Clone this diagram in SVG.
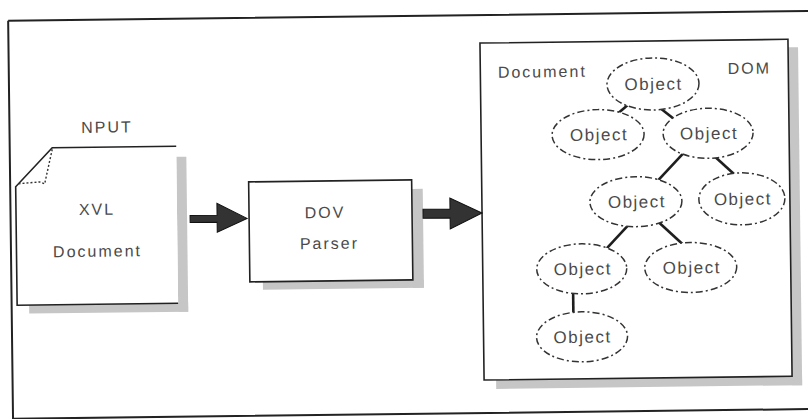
<svg xmlns="http://www.w3.org/2000/svg" width="808" height="419" viewBox="0 0 808 419">
<style>
.t{font-family:"Liberation Sans",Arial,sans-serif;font-size:16px;fill:#4a4a4a;letter-spacing:2px;text-anchor:middle}
.o{font-family:"Liberation Sans",Arial,sans-serif;font-size:17px;fill:#4a4a4a;letter-spacing:1.5px;text-anchor:middle}
.box{fill:#fff;stroke:#222;stroke-width:1.6}
.sh{fill:#c6c6c6}
.el{fill:#fff;stroke:#333;stroke-width:1.5;stroke-dasharray:7 3 2 3}
.cn{stroke:#1e1e1e;stroke-width:2.6;fill:none}
.ar{fill:#333;stroke:#111;stroke-width:1}
</style>
<rect width="808" height="419" fill="#fff"/>
<g transform="rotate(-0.7 404 210)">
<g id="frame"><path d="M10.5,16 L820,16 M10.5,16 L10.5,430 M10.5,414 L820,414" fill="none" stroke="#222" stroke-width="2"/></g>

<g id="input-doc">
<rect class="sh" x="177" y="154" width="10" height="155"/>
<rect class="sh" x="28" y="300.5" width="159" height="8.5"/>
<path d="M53,143.5 L177,143.5 L177,300.5 L16,300.5 L16,182 Z" fill="#fff"/>
<path d="M177,143.5 L53,143.5 L16,182 L16,300.5 L177,300.5" fill="none" stroke="#222" stroke-width="1.6"/>
<polyline points="53,145 45,179.5 40,177.5 19,179" fill="none" stroke="#333" stroke-width="1.4" stroke-dasharray="2 2"/>
<text class="t" x="108" y="129">NPUT</text>
<text class="t" x="97" y="211">XVL</text>
<text class="t" x="97" y="253">Document</text>
</g>

<g id="parser">
<rect class="sh" x="412" y="189" width="11" height="99"/>
<rect class="sh" x="262" y="280" width="161" height="8"/>
<rect class="box" x="249" y="180" width="163" height="100"/>
<text class="t" x="325" y="217">DOV</text>
<text class="t" x="329" y="248">Parser</text>
</g>

<g id="dom-box">
<rect class="sh" x="790" y="52" width="10" height="338"/>
<rect class="sh" x="494" y="381" width="306" height="9"/>
<rect class="box" x="482" y="44" width="308" height="337"/>
<text class="t" x="544" y="79">Document</text>
<text class="t" x="751" y="78">DOM</text>
</g>

<g id="connectors">
<path class="ar" d="M190,213 L217,213 L217,201 L247,216.5 L217,230 L217,220 L190,220 Z"/>
<path class="ar" d="M423,209.5 L450,209.5 L450,198.5 L482,214 L450,229.5 L450,218.5 L423,218.5 Z"/>
<line class="cn" x1="632.6" y1="104.9" x2="616.6" y2="118.1"/>
<line class="cn" x1="654.9" y1="106" x2="677.7" y2="124.4"/>
<line class="cn" x1="685.8" y1="154.8" x2="657" y2="185"/>
<line class="cn" x1="713.7" y1="158.7" x2="739" y2="182.4"/>
<line class="cn" x1="630" y1="225.8" x2="602.7" y2="254.5"/>
<line class="cn" x1="656.1" y1="223" x2="685" y2="250.2"/>
<line class="cn" x1="572.1" y1="293" x2="572.1" y2="321"/>
</g>

<g id="obj1"><ellipse class="el" cx="654.5" cy="87" rx="46" ry="26"/><text class="o" x="655" y="93">Object</text></g>
<g id="obj2"><ellipse class="el" cx="599" cy="137" rx="46" ry="25"/><text class="o" x="600" y="143">Object</text></g>
<g id="obj3"><ellipse class="el" cx="709" cy="137" rx="45" ry="25"/><text class="o" x="710" y="143">Object</text></g>
<g id="obj4"><ellipse class="el" cx="636" cy="204.5" rx="46" ry="25"/><text class="o" x="637" y="210.5">Object</text></g>
<g id="obj5"><ellipse class="el" cx="742" cy="203" rx="43" ry="26"/><text class="o" x="743" y="209">Object</text></g>
<g id="obj6"><ellipse class="el" cx="581" cy="271" rx="45" ry="25"/><text class="o" x="582" y="277">Object</text></g>
<g id="obj7"><ellipse class="el" cx="690" cy="271" rx="46" ry="25"/><text class="o" x="691" y="277">Object</text></g>
<g id="obj8"><ellipse class="el" cx="580.5" cy="339" rx="45.5" ry="25"/><text class="o" x="581" y="345">Object</text></g>
</g>
</svg>
